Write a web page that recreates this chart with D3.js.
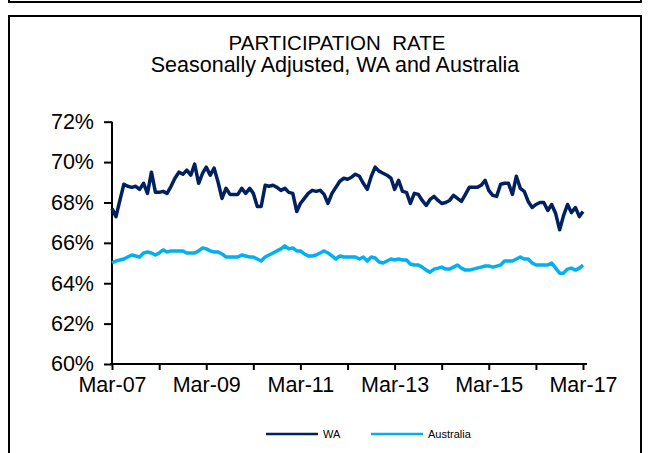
<!DOCTYPE html>
<html>
<head>
<meta charset="utf-8">
<script src="https://cdn.jsdelivr.net/npm/d3@7"></script>
<style>
  body { margin: 0; background: #fff; }
  svg { display: block; font-family: "Liberation Sans", Arial, sans-serif; }
</style>
</head>
<body>
<svg id="chart"></svg>
<script>
// monthly, Mar-07 .. Mar-17
const startMonth = new Date(2007, 2, 1);

const waRate = [
  67.7, 67.3, 68.1, 68.9, 68.8, 68.75, 68.8, 68.65, 68.95, 68.45,
  69.5, 68.5, 68.5, 68.55, 68.45, 68.8, 69.2, 69.5, 69.4, 69.6,
  69.35, 69.9, 68.95, 69.45, 69.75, 69.35, 69.7, 69.0, 68.2, 68.7,
  68.4, 68.4, 68.4, 68.7, 68.45, 68.7, 68.45, 67.8, 67.8, 68.85,
  68.8, 68.85, 68.75, 68.6, 68.7, 68.5, 68.45, 67.55, 67.95, 68.2,
  68.45, 68.6, 68.55, 68.6, 68.4, 67.95, 68.45, 68.75, 69.05, 69.2,
  69.15, 69.25, 69.4, 69.3, 68.95, 68.65, 69.3, 69.75, 69.55, 69.45,
  69.35, 69.2, 68.65, 69.1, 68.55, 68.5, 67.95, 68.45, 68.4, 68.1,
  67.85, 68.15, 68.3, 68.1, 67.95, 68.0, 68.1, 68.35, 68.2, 68.05,
  68.4, 68.75, 68.75, 68.75, 68.85, 69.1, 68.6, 68.35, 68.3, 68.9,
  68.95, 68.95, 68.4, 69.3, 68.7, 68.55, 68.05, 67.75, 67.9, 68.0,
  68.0, 67.6, 67.9, 67.45, 66.65, 67.35, 67.9, 67.5, 67.75, 67.3,
  67.55
];

const ausRate = [
  65.0, 65.1, 65.15, 65.2, 65.3, 65.4, 65.35, 65.3, 65.5, 65.55,
  65.5, 65.4, 65.5, 65.65, 65.55, 65.6, 65.6, 65.6, 65.6, 65.5,
  65.5, 65.5, 65.6, 65.75, 65.7, 65.6, 65.55, 65.55, 65.45, 65.3,
  65.3, 65.3, 65.3, 65.4, 65.35, 65.3, 65.3, 65.2, 65.1, 65.3,
  65.4, 65.5, 65.6, 65.7, 65.85, 65.7, 65.75, 65.6, 65.6, 65.45,
  65.35, 65.35, 65.4, 65.5, 65.6, 65.5, 65.35, 65.2, 65.35, 65.3,
  65.3, 65.3, 65.3, 65.2, 65.3, 65.1, 65.3, 65.25, 65.05, 65.0,
  65.1, 65.2, 65.15, 65.2, 65.15, 65.15, 64.95, 64.9, 64.9, 64.8,
  64.65, 64.55, 64.7, 64.75, 64.8, 64.7, 64.7, 64.8, 64.9, 64.75,
  64.65, 64.65, 64.7, 64.75, 64.8, 64.85, 64.85, 64.8, 64.85, 64.9,
  65.1, 65.1, 65.1, 65.2, 65.3, 65.2, 65.2, 65.0, 64.9, 64.9,
  64.9, 64.9, 65.0, 64.75, 64.5, 64.5, 64.7, 64.75, 64.65, 64.75,
  64.9
];

const yTicks = [60, 62, 64, 66, 68, 70, 72];
const xTickLabels = ["Mar-07", "Mar-09", "Mar-11", "Mar-13", "Mar-15", "Mar-17"];
const seriesNames = ["WA", "Australia"];
const colors = ["#002060", "#00b0f0"];

const width = 652, height = 453;
const months = waRate.map((d, i) => d3.timeMonth.offset(startMonth, i));

const svg = d3.select("#chart")
  .attr("width", width)
  .attr("height", height);

// frames
svg.append("rect")
  .attr("x", 9).attr("y", -20)
  .attr("width", 632).attr("height", 22)
  .attr("fill", "none").attr("stroke", "#000").attr("stroke-width", 2);

svg.append("rect")
  .attr("x", 9).attr("y", 16)
  .attr("width", 632).attr("height", 460)
  .attr("fill", "none").attr("stroke", "#000").attr("stroke-width", 2);

// titles
svg.append("text")
  .attr("x", 337).attr("y", 50)
  .attr("text-anchor", "middle")
  .style("font-size", "20.5px")
  .text("PARTICIPATION\u00a0\u00a0RATE");

svg.append("text")
  .attr("x", 335).attr("y", 72)
  .attr("text-anchor", "middle")
  .style("font-size", "21.5px")
  .text("Seasonally Adjusted, WA and Australia");

const x = d3.scaleTime()
  .domain([months[0], months[months.length - 1]])
  .range([112, 583]);

const y = d3.scaleLinear()
  .domain([60, 72])
  .range([364, 121.7]);

// y axis
const yAxis = svg.append("g")
  .attr("transform", "translate(112,0)")
  .call(d3.axisLeft(y).tickValues(yTicks).tickSize(8).tickPadding(10)
    .tickFormat(d => d + "%"));
yAxis.select(".domain").attr("stroke-width", 2).attr("d", `M0,${y(72)}V${y(60)}`);
yAxis.selectAll(".tick line").attr("stroke-width", 2);
yAxis.selectAll("text").style("font-size", "21.5px").attr("fill", "#000");

// x axis, tick every year, label every two
const yearTicks = d3.range(0, months.length, 12).map(i => months[i]);
const xAxis = svg.append("g")
  .attr("transform", `translate(0,${y(60)})`)
  .call(d3.axisBottom(x).tickValues(yearTicks).tickSize(6).tickPadding(7)
    .tickFormat((d, i) => i % 2 === 0 ? xTickLabels[i / 2] : ""));
xAxis.select(".domain").attr("stroke-width", 2).attr("d", "M110,0H587");
xAxis.selectAll(".tick line").attr("stroke-width", 2);
xAxis.selectAll("text").style("font-size", "21.5px").attr("fill", "#000");

// lines
const line = d3.line()
  .x((d, i) => x(months[i]))
  .y(d => y(d));

[waRate, ausRate].forEach((s, k) => {
  svg.append("path")
    .datum(s)
    .attr("fill", "none")
    .attr("stroke", colors[k])
    .attr("stroke-width", 3.5)
    .attr("stroke-linejoin", "round")
    .attr("d", line);
});

// legend
const legendX = [266, 371];
const legend = svg.append("g");
seriesNames.forEach((name, k) => {
  legend.append("line")
    .attr("x1", legendX[k]).attr("x2", legendX[k] + 52)
    .attr("y1", 434).attr("y2", 434)
    .attr("stroke", colors[k]).attr("stroke-width", 2.5);
  legend.append("text")
    .attr("x", legendX[k] + 57).attr("y", 438)
    .style("font-size", "11px")
    .text(name);
});
</script>
</body>
</html>
